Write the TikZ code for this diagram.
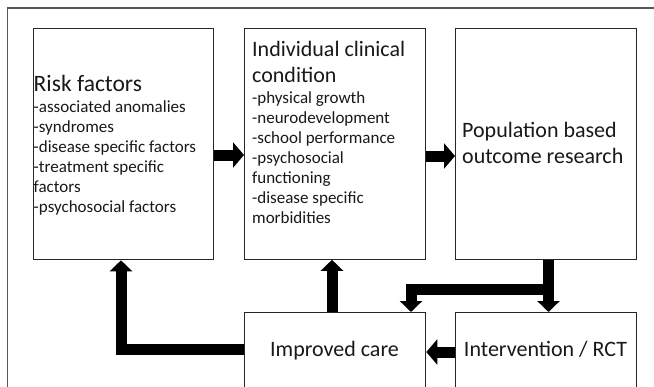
\documentclass[tikz,border=0pt]{standalone}
\usepackage{fontspec}
\setmainfont{Carlito}
\usetikzlibrary{arrows.meta}
\newcommand\stacklines[1]{\begin{tabular}[t]{@{}l@{}}#1\end{tabular}}
\begin{document}
\begin{tikzpicture}[x=1pt,y=-1pt,
  box/.style={draw=black!85,line width=1.3pt,inner sep=0pt,anchor=north west},
  flow/.style={line width=11pt,line join=miter,line cap=butt,-{Triangle[width=22pt,length=11pt]}},
  hflow/.style={flow,-{Triangle[width=25pt,length=11pt]}},
  title/.style={inner sep=0pt,anchor=base west,font=\fontsize{22}{26.5}\selectfont,text=black!90},
  body/.style={inner sep=0pt,anchor=base west,font=\fontsize{17}{20}\selectfont,text=black!90}]
\useasboundingbox (0,0) rectangle (654,386);
\clip (0,0) rectangle (654,386);
\fill[white] (0,0) rectangle (654,386);
\draw[black!65,line width=1.5pt] (7.5,400) -- (7.5,8) -- (660,8);

% boxes
\node[box,minimum width=180pt,minimum height=231pt] (risk) at (33,28) {};
\node[box,minimum width=181pt,minimum height=231pt] (indiv) at (244,27.5) {};
\node[box,minimum width=181pt,minimum height=231pt] (pop) at (455,27.5) {};
\node[box,minimum width=181pt,minimum height=100pt] (care) at (244,312) {};
\node[box,minimum width=181pt,minimum height=100pt] (interv) at (455,312) {};

% texts
\node[title,font=\fontsize{23.5}{28}\selectfont] (rtitle) at (33.5,91.7) {Risk factors};
\node[body] (rbody) at (33.5,112) {\stacklines{-associated anomalies\\-syndromes\\-disease specific factors\\-treatment specific\\factors\\-psychosocial factors}};
\node[title] (ititle) at (252,56) {\stacklines{Individual clinical\\condition}};
\node[body] (ibody) at (252,103) {\stacklines{-physical growth\\-neurodevelopment\\-school performance\\-psychosocial\\functioning\\-disease specific\\morbidities}};
\node[title] (ptitle) at (462,137) {\stacklines{Population based\\outcome research}};
\node[title,anchor=base] (ctitle) at (334.5,356) {Improved care};
\node[title,anchor=base] (ntitle) at (545.5,356) {Intervention / RCT};

% helper coordinates
\coordinate (h1) at (0,155);
\coordinate (h2) at (0,156);
\coordinate (hb) at (0,289);
\coordinate (h3) at (0,352);
\coordinate (h4) at (0,349.5);
\coordinate (v1) at (548.5,0);
\coordinate (v2) at (411,0);
\coordinate (v3) at (332,0);
\coordinate (v4) at (121,0);

% connectors
\draw[hflow] (risk.east |- h1) -- (indiv.west |- h1);
\draw[hflow] (indiv.east |- h2) -- (pop.west |- h2);
\draw[flow] (pop.south -| v1) -- (interv.north -| v1);
\draw[flow] (hb -| v1) -- (hb -| v2) -- (care.north -| v2);
\draw[hflow] (interv.west |- h3) -- (care.east |- h3);
\draw[flow] (care.north -| v3) -- (indiv.south -| v3);
\draw[flow] (care.west |- h4) -- (h4 -| v4) -- (risk.south -| v4);
\end{tikzpicture}
\end{document}
